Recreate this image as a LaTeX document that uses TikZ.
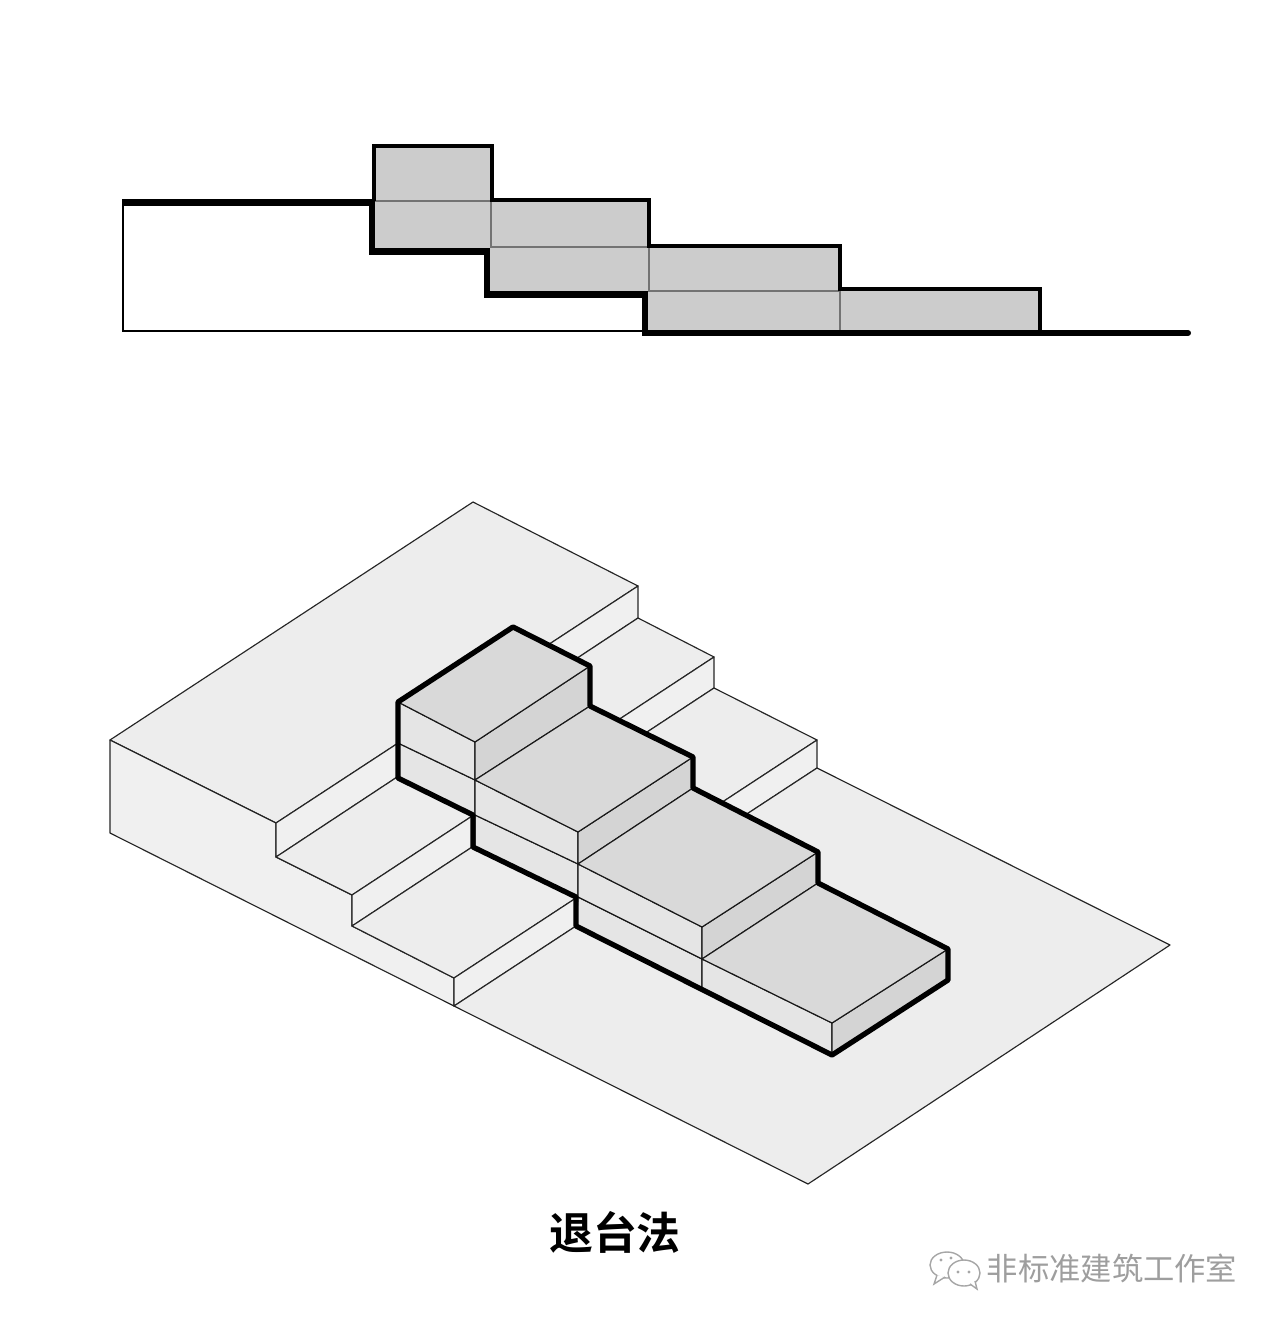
\documentclass[tikz,border=0pt]{standalone}
\usepackage{fontspec}
\usepackage{tikz}
\newfontfamily\titlefont{Noto Sans CJK SC}[BoldFont={Noto Sans CJK SC Bold}]
\tikzset{
    sectionline/.style={black, line width=0.95pt, line join=miter},
    sectionbase/.style={black, line width=0.85pt, line join=miter},
    sectionthick/.style={black, line width=1.75pt, line join=miter},
    sectionjoint/.style={black!55, line width=0.3pt},
    sectionfill/.style={fill=black!20, draw=none},
    groundface/.style={fill=black!7, draw=black!85, line width=0.33pt, line join=round},
    frontface/.style={fill=black!6, draw=black!85, line width=0.33pt, line join=round},
    massface/.style={draw=black!90, line width=0.33pt, line join=round},
    masstop/.style={massface, fill=black!15},
    massleft/.style={massface, fill=black!10},
    massright/.style={massface, fill=black!17},
    massoutline/.style={black, line width=1.5pt, line join=round},
    logoline/.style={draw=black!35, line width=0.4pt, fill=white}
}
\begin{document}
\begin{tikzpicture}[x=0.01cm, y=-0.01cm]
    \useasboundingbox (0, 0) rectangle (1280, 1325);
    \draw[sectionbase] (123, 202) -- (123, 331) -- (645, 331);
    \path[sectionfill] (374, 146) -- (492, 146) -- (492, 201) -- (649, 201) -- (649, 246) -- (840, 246) -- (840, 289) -- (1040, 289) -- (1040, 332) -- (645, 332) -- (645, 294) -- (487, 294) -- (487, 251) -- (374, 251) -- cycle;
    \draw[sectionjoint] (374, 201) -- (491, 201) -- (491, 247) -- (649, 247) -- (649, 291) -- (840, 291) -- (840, 332);
    \draw[sectionline] (374, 201) -- (374, 146) -- (492, 146) -- (492, 200) -- (649, 200) -- (649, 246) -- (840, 246) -- (840, 289) -- (1040, 289) -- (1040, 332);
    \draw[sectionthick] (122, 202.5) -- (372, 202.5) -- (372, 251.5) -- (487, 251.5) -- (487, 294.5) -- (645, 294.5) -- (645, 333) -- (1188, 333);
    \fill[black] (1188, 333) circle (3);

    \draw[groundface] (473, 502) -- (110, 740) -- (276, 823) -- (638, 586) -- cycle;
    \draw[frontface] (110, 740) -- (110, 833) -- (454, 1006) -- (454, 978) -- (352, 926) -- (352, 895) -- (276, 857) -- (276, 823) -- cycle;
    \draw[frontface] (276, 823) -- (276, 857) -- (638, 618) -- (638, 586) -- cycle;
    \draw[groundface] (276, 857) -- (352, 895) -- (714, 657) -- (638, 618) -- cycle;
    \draw[frontface] (352, 895) -- (352, 926) -- (714, 688) -- (714, 657) -- cycle;
    \draw[groundface] (352, 926) -- (454, 978) -- (817, 740) -- (714, 688) -- cycle;
    \draw[frontface] (454, 978) -- (454, 1006) -- (817, 768) -- (817, 740) -- cycle;
    \draw[groundface] (454, 1006) -- (808, 1184) -- (1170, 945) -- (817, 768) -- cycle;

    \draw[massleft] (398, 743) -- (475, 780) -- (475, 815) -- (398, 778) -- cycle;
    \draw[massleft] (398, 702) -- (475, 742) -- (475, 780) -- (398, 743) -- cycle;
    \draw[massright] (475, 742) -- (590, 666) -- (590, 706) -- (475, 780) -- cycle;
    \draw[masstop] (398, 702) -- (513, 627) -- (590, 666) -- (475, 742) -- cycle;
    \draw[massleft] (475, 815) -- (578, 864) -- (578, 897) -- (475, 847) -- cycle;
    \draw[massleft] (475, 780) -- (578, 832) -- (578, 864) -- (475, 815) -- cycle;
    \draw[massright] (578, 832) -- (693, 757) -- (693, 788) -- (578, 864) -- cycle;
    \draw[masstop] (475, 780) -- (590, 706) -- (693, 757) -- (578, 832) -- cycle;
    \draw[massleft] (578, 897) -- (702, 959) -- (702, 988) -- (576, 926) -- cycle;
    \draw[massleft] (578, 864) -- (702, 927) -- (702, 959) -- (578, 897) -- cycle;
    \draw[massright] (702, 927) -- (818, 852) -- (818, 883) -- (702, 959) -- cycle;
    \draw[masstop] (578, 864) -- (693, 788) -- (818, 852) -- (702, 927) -- cycle;
    \draw[massleft] (702, 959) -- (832, 1023) -- (832, 1055) -- (702, 988) -- cycle;
    \draw[massright] (832, 1023) -- (948, 949) -- (948, 980) -- (832, 1055) -- cycle;
    \draw[masstop] (702, 959) -- (818, 883) -- (948, 949) -- (832, 1023) -- cycle;
    \draw[massoutline] (398, 778) -- (398, 702) -- (513, 627) -- (590, 666) -- (590, 706) -- (693, 757) -- (693, 788) -- (818, 852) -- (818, 883) -- (948, 949) -- (948, 980) -- (832, 1055) -- (576, 926) -- (576, 897) -- (473, 847) -- (473, 815) -- cycle;

    \node[font=\titlefont\bfseries\fontsize{12.5pt}{14pt}\selectfont] (title) at (615, 1232) {退台法};

    \draw[logoline] (947, 1265) ellipse [x radius=17, y radius=13];
    \draw[logoline] (937, 1275) -- (934, 1284) -- (945, 1277);
    \draw[logoline] (964, 1273) ellipse [x radius=16, y radius=13];
    \draw[logoline] (970, 1284) -- (977, 1289) -- (975, 1281);
    \fill[black!35] (958, 1272) circle (1.6) (969, 1272) circle (1.6) (941, 1260) circle (1.6) (951, 1258) circle (1.6);
    \node[text=black!38, font=\titlefont\fontsize{8.9pt}{10pt}\selectfont, inner sep=0pt] (mark) at (1112, 1268) {非标准建筑工作室};
\end{tikzpicture}
\end{document}
